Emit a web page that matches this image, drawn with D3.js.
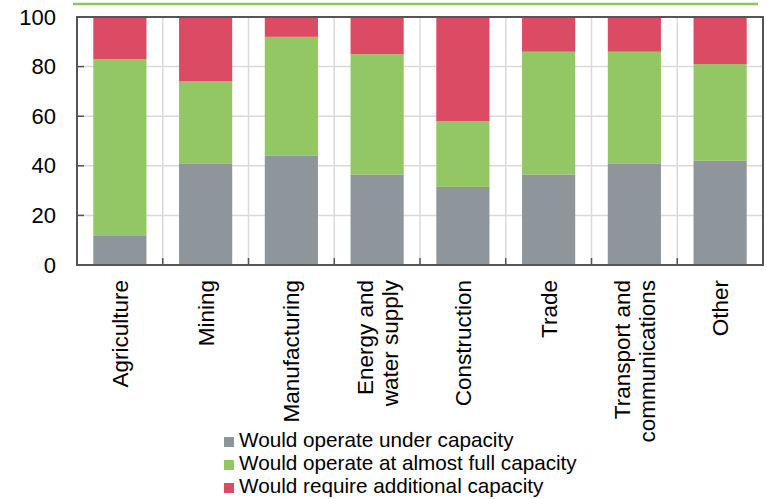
<!DOCTYPE html>
<html>
<head>
<meta charset="utf-8">
<script src="https://cdn.jsdelivr.net/npm/d3@7"></script>
<style>
  body { margin: 0; background: #fff; }
  svg { display: block; font-family: "Liberation Sans", Arial, sans-serif; }
</style>
</head>
<body>
<svg id="chart" width="767" height="499"></svg>
<script>
// sectors (multi-line labels split with |)
const categories = ['Agriculture', 'Mining', 'Manufacturing', 'Energy and|water supply',
  'Construction', 'Trade', 'Transport and|communications', 'Other'];
// percent of firms
const underCapacity = [12, 41, 44, 36.5, 31.5, 36.5, 41, 42];
const almostFull = [71, 33, 48, 48.5, 26.5, 49.5, 45, 39];
const additional = [17, 26, 8, 15, 42, 14, 14, 19];
const seriesNames = ['Would operate under capacity', 'Would operate at almost full capacity',
  'Would require additional capacity'];
const yTicks = [0, 20, 40, 60, 80, 100];

const colors = ['#8e959b', '#92c764', '#dc4b64'];

const svg = d3.select('#chart');
const width = +svg.attr('width');
const margin = {top: 17, right: 4, bottom: 234, left: 77};
const innerWidth = width - margin.left - margin.right;
const innerHeight = +svg.attr('height') - margin.top - margin.bottom;

const data = categories.map((c, i) => ({
  cat: c, s0: underCapacity[i], s1: almostFull[i], s2: additional[i]
}));
const stack = d3.stack().keys(['s0', 's1', 's2'])(data);

// scales work in page coordinates
const xScale = d3.scaleBand().domain(categories)
  .range([margin.left, margin.left + innerWidth]).paddingInner(0.38).paddingOuter(0.19);
const yScale = d3.scaleLinear().domain([0, 100]).range([margin.top + innerHeight, margin.top]);
const step = xScale.step();
const x0 = margin.left, x1 = margin.left + innerWidth;
const yBottom = yScale(0), yTop = yScale(100);

// green rule at top
svg.append('line')
  .attr('x1', 73).attr('x2', 758).attr('y1', 4).attr('y2', 4)
  .attr('stroke', '#8cc45a').attr('stroke-width', 2.5);

// horizontal gridlines
svg.selectAll('.hgrid').data(yTicks.slice(1, -1))
  .enter().append('line')
  .attr('x1', x0).attr('x2', x1)
  .attr('y1', d => yScale(d)).attr('y2', d => yScale(d))
  .attr('stroke', '#dadada').attr('stroke-width', 1.5);

// vertical gridlines between categories
const bounds = d3.range(1, categories.length).map(i => x0 + i * step);
svg.selectAll('.vgrid').data(bounds)
  .enter().append('line')
  .attr('x1', d => d).attr('x2', d => d)
  .attr('y1', yTop).attr('y2', yBottom)
  .attr('stroke', '#dadada').attr('stroke-width', 1.5);

// stacked bars
svg.selectAll('.layer').data(stack)
  .enter().append('g')
  .attr('fill', (d, i) => colors[i])
  .selectAll('rect').data(d => d)
  .enter().append('rect')
  .attr('x', d => xScale(d.data.cat))
  .attr('width', xScale.bandwidth())
  .attr('y', d => yScale(d[1]))
  .attr('height', d => yScale(d[0]) - yScale(d[1]));

// frame
svg.append('rect')
  .attr('x', x0).attr('y', yTop)
  .attr('width', innerWidth).attr('height', innerHeight)
  .attr('fill', 'none').attr('stroke', '#555').attr('stroke-width', 2);

// y ticks, pointing inward
svg.selectAll('.ytick').data(yTicks.slice(1, -1))
  .enter().append('line')
  .attr('x1', x0).attr('x2', x0 + 7)
  .attr('y1', d => yScale(d)).attr('y2', d => yScale(d))
  .attr('stroke', '#555').attr('stroke-width', 1.5);

// y labels: right-aligned by measuring, start-anchored
svg.selectAll('.ylab').data(yTicks)
  .enter().append('text')
  .attr('y', d => yScale(d) + 7.5)
  .attr('font-size', 22)
  .attr('fill', '#000')
  .text(d => d)
  .attr('x', function() { return x0 - 21 - this.getComputedTextLength(); });

// bottom ticks at category boundaries
svg.selectAll('.btick').data(bounds)
  .enter().append('line')
  .attr('x1', d => d).attr('x2', d => d)
  .attr('y1', yBottom).attr('y2', yBottom - 7)
  .attr('stroke', '#555').attr('stroke-width', 1.5);

// rotated category labels, one text per line, reading bottom to top
const lineH = 25;
const labelTop = yBottom + 15;
const xLines = [];
categories.forEach(c => {
  const parts = c.split('|');
  parts.forEach((p, i) => xLines.push({cat: c, text: p, off: (i - (parts.length - 1) / 2) * lineH + 8}));
});
svg.selectAll('.xlab').data(xLines)
  .enter().append('text')
  .attr('font-size', 22.5)
  .attr('fill', '#000')
  .text(d => d.text)
  .each(function(d) {
    const len = this.getComputedTextLength();
    const cx = xScale(d.cat) + xScale.bandwidth() / 2 + d.off;
    const by = labelTop + len;
    d3.select(this).attr('x', cx).attr('y', by)
      .attr('transform', `rotate(-90,${cx},${by})`);
  });

// legend
seriesNames.forEach((name, i) => {
  const y = 437 + i * 23;
  svg.append('rect').attr('x', 224).attr('y', y).attr('width', 10).attr('height', 10).attr('fill', colors[i]);
  svg.append('text').attr('x', 239).attr('y', y + 10).attr('font-size', 20.7).attr('fill', '#000').text(name);
});
</script>
</body>
</html>
